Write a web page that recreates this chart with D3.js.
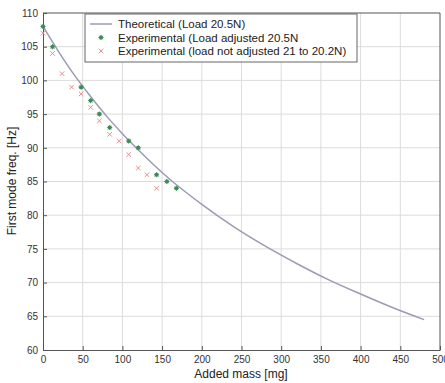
<!DOCTYPE html>
<html><head><meta charset="utf-8">
<script src="https://cdn.jsdelivr.net/npm/d3@7"></script>
<style>body{margin:0;background:#fff}svg{display:block;font-family:"Liberation Sans",Arial,sans-serif}</style>
</head><body><svg id="c" width="445" height="383"></svg>
<script>
// Theoretical curve
const theoMass = [0,20,40,60,80,100,120,140,160,180,200,240,280,320,360,400,440,480];
const theoFreq = [108,104.2,100.7,97.6,94.7,92.1,89.7,87.4,85.3,83.4,81.6,78.3,75.4,72.8,70.4,68.3,66.3,64.5];
// Experimental, load adjusted 20.5N
const adjMass = [0,12,48,60,71,84,108,120,143,156,168];
const adjFreq = [108,105,99,97,95,93,91,90,86,85,84];
// Experimental, load not adjusted
const notMass = [0,12,24,36,48,60,71,84,96,108,120,131,143];
const notFreq = [107,104,101,99,98,96,94,92,91,89,87,86,84];
const xTicks = [0,50,100,150,200,250,300,350,400,450,500];
const yTicks = [60,65,70,75,80,85,90,95,100,105,110];
const legendLabels = ["Theoretical (Load 20.5N)","Experimental (Load adjusted 20.5N","Experimental (load not adjusted 21 to 20.2N)"];

const svg = d3.select("#c");
const L=43, R=440, T=13, B=350;
const x = d3.scaleLinear().domain([0,500]).range([L,R]);
const y = d3.scaleLinear().domain([60,110]).range([B,T]);

// grid
svg.append("g").selectAll("line").data(xTicks.slice(1,-1)).join("line")
  .attr("x1",d=>x(d)).attr("x2",d=>x(d)).attr("y1",T).attr("y2",B)
  .attr("stroke","#dcdcdc").attr("stroke-width",1);
svg.append("g").selectAll("line").data(yTicks.slice(1,-1)).join("line")
  .attr("y1",d=>y(d)).attr("y2",d=>y(d)).attr("x1",L).attr("x2",R)
  .attr("stroke","#dcdcdc").attr("stroke-width",1);

// axes
const xa = svg.append("g").attr("transform",`translate(0,${B})`)
  .call(d3.axisBottom(x).tickValues(xTicks).tickSizeInner(-4).tickSizeOuter(0).tickPadding(6));
const ya = svg.append("g").attr("transform",`translate(${L},0)`)
  .call(d3.axisLeft(y).tickValues(yTicks).tickSizeInner(-4).tickSizeOuter(0).tickPadding(5));
[xa,ya].forEach(a=>{a.selectAll("text").attr("font-size",10).attr("fill","#333").attr("font-family","Liberation Sans, Arial");
  a.selectAll("line").attr("stroke","#555"); a.select(".domain").attr("stroke","#555");});
// top/right frame
svg.append("line").attr("x1",L).attr("x2",R).attr("y1",T).attr("y2",T).attr("stroke","#555");
svg.append("line").attr("x1",R).attr("x2",R).attr("y1",T).attr("y2",B).attr("stroke","#555");

// curve
const line = d3.line().x((d,i)=>x(theoMass[i])).y(d=>y(d)).curve(d3.curveMonotoneX);
svg.append("path").attr("d",line(theoFreq)).attr("fill","none").attr("stroke","#9a9cb4").attr("stroke-width",1.5);

function star(g,cx,cy,col){
  const s=2.6;
  g.append("circle").attr("cx",cx).attr("cy",cy).attr("r",2).attr("fill",col);
  [[s,0],[0,s],[s*0.7,s*0.7],[s*0.7,-s*0.7]].forEach(([dx,dy])=>
    g.append("line").attr("x1",cx-dx).attr("x2",cx+dx).attr("y1",cy-dy).attr("y2",cy+dy).attr("stroke",col).attr("stroke-width",0.9));
}
function cross(g,cx,cy,col){
  const s=2.3;
  g.append("line").attr("x1",cx-s).attr("x2",cx+s).attr("y1",cy-s).attr("y2",cy+s).attr("stroke",col).attr("stroke-width",1);
  g.append("line").attr("x1",cx-s).attr("x2",cx+s).attr("y1",cy+s).attr("y2",cy-s).attr("stroke",col).attr("stroke-width",1);
}
const gN = svg.append("g");
notMass.forEach((m,i)=>cross(gN,x(m),y(notFreq[i]),"#e89090"));
const gA = svg.append("g");
adjMass.forEach((m,i)=>star(gA,x(m),y(adjFreq[i]),"#3f8a5a"));

// legend
const lg = svg.append("g");
lg.append("rect").attr("x",85).attr("y",14).attr("width",272).attr("height",48).attr("fill","#fff").attr("stroke","#666");
const rows=[24,37.5,51];
lg.append("line").attr("x1",90).attr("x2",112).attr("y1",rows[0]).attr("y2",rows[0]).attr("stroke","#9a9cb4").attr("stroke-width",1.5);
star(lg,101,rows[1],"#3f8a5a");
cross(lg,101,rows[2],"#e89090");
lg.selectAll("text").data(legendLabels).join("text").attr("x",118).attr("y",(d,i)=>rows[i]+4)
  .attr("font-size",11.5).attr("fill","#222").text(d=>d);

// axis labels
svg.append("text").attr("x",241).attr("y",378).attr("text-anchor","middle").attr("font-size",12).attr("fill","#222").text("Added mass [mg]");
svg.append("text").attr("transform","translate(16,181) rotate(-90)").attr("text-anchor","middle").attr("font-size",12).attr("fill","#222").text("First mode freq. [Hz]");
</script></body></html>
